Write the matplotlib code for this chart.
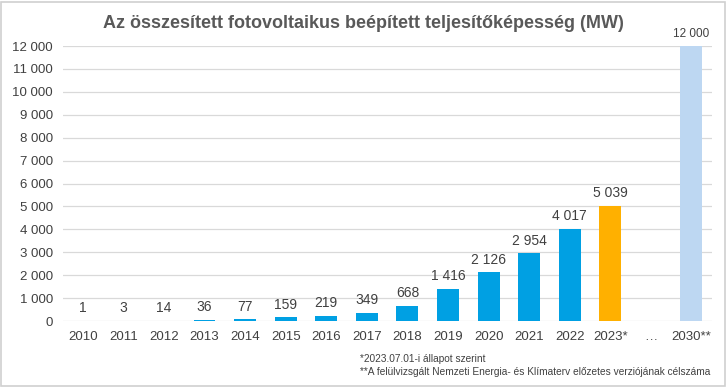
import matplotlib
matplotlib.use("Agg")
import matplotlib.pyplot as plt
import numpy as np

categories = ["2010", "2011", "2012", "2013", "2014", "2015", "2016", "2017",
              "2018", "2019", "2020", "2021", "2022", "2023*", "…", "2030**"]
values = [1, 3, 14, 36, 77, 159, 219, 349, 668, 1416, 2126, 2954, 4017, 5039, None, 12000]
yticks = list(range(0, 12001, 1000))

BLUE = "#00a0e3"
ORANGE = "#ffb000"
LIGHT = "#bdd7f2"
TEXT = "#404040"
GRID = "#d9d9d9"


def fmt(v):
    return f"{v:,}".replace(",", " ")


plt.rcParams["font.family"] = ["Liberation Sans", "DejaVu Sans"]

fig = plt.figure(figsize=(7.27, 3.87), dpi=100)
ax = fig.add_axes([0.086, 0.1705, 0.893, 0.7105])

x = np.arange(len(categories))
colors = [BLUE] * 13 + [ORANGE, BLUE, LIGHT]
for xi, v, c in zip(x, values, colors):
    if v is None:
        continue
    ax.bar(xi, v, width=0.54, color=c, edgecolor="none", zorder=2)
    if categories[xi] == "2030**":
        ax.text(xi, v + 250, fmt(v), ha="center", va="bottom", fontsize=8.5, color=TEXT)
    else:
        ax.text(xi, v + 250, fmt(v), ha="center", va="bottom", fontsize=10, color=TEXT)

ax.set_xlim(-0.5, len(categories) - 0.5)
ax.set_ylim(0, 12000)
ax.set_yticks(yticks)
ax.set_yticklabels([fmt(t) for t in yticks], color=TEXT, fontsize=9.5)
ax.set_xticks(x)
ax.set_xticklabels(categories, color=TEXT, fontsize=9.5)
ax.tick_params(length=0, pad=7)
ax.grid(axis="y", color=GRID, linewidth=0.9, zorder=0)
ax.set_axisbelow(True)
for s in ax.spines.values():
    s.set_visible(False)

fig.text(0.5, 0.94, "Az összesített fotovoltaikus beépített teljesítőképesség (MW)",
         ha="center", va="center", fontsize=13, fontweight="bold", color="#595959")
fig.text(0.495, 0.073, "*2023.07.01-i állapot szerint", fontsize=7.3, color=TEXT, va="center")
fig.text(0.495, 0.040, "**A felülvizsgált Nemzeti Energia- és Klímaterv előzetes verziójának célszáma",
         fontsize=7.3, color=TEXT, va="center")

fig.patches.append(plt.Rectangle((0.002, 0.003), 0.995, 0.993, transform=fig.transFigure,
                                 fill=False, edgecolor="#d0d0d0", linewidth=1.2))

fig.savefig("out.png", dpi=100, facecolor="white")
